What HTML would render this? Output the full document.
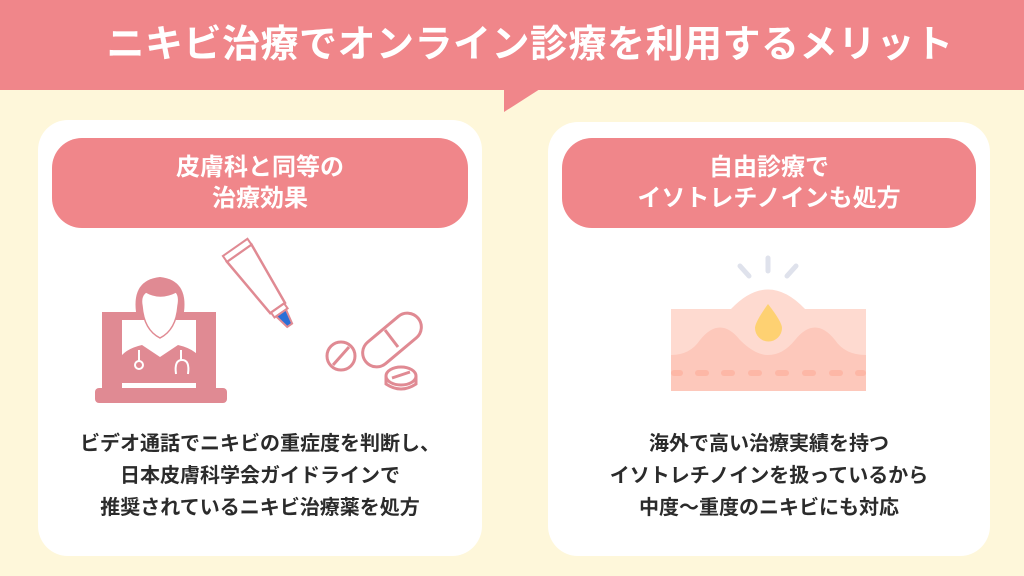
<!DOCTYPE html>
<html><head><meta charset="utf-8"><style>
body{margin:0;width:1024px;height:576px;background:#fef7da;position:relative;overflow:hidden;font-family:"Liberation Sans","Noto Sans CJK JP",sans-serif;}
.band{position:absolute;left:0;top:0;width:1024px;height:90px;background:#f0868a;}
.title{position:absolute;left:0;top:0;width:1024px;height:90px;line-height:90px;text-align:center;color:#fff;font-weight:bold;font-size:38px;padding-left:36px;box-sizing:border-box;letter-spacing:0.5px}
.card{position:absolute;background:#fff;border-radius:30px;}
.pill{position:absolute;background:#f0868a;border-radius:30px;color:#fff;font-weight:bold;font-size:24px;line-height:31px;text-align:center;display:flex;align-items:center;justify-content:center}
.txt{position:absolute;text-align:center;color:#2b2b2b;font-weight:bold;font-size:20px;line-height:32px}
</style></head><body>
<div class="band"></div>
<svg style="position:absolute;left:0;top:0" width="1024" height="120"><polygon points="504,89 540,89 504,112" fill="#f0868a"/></svg>
<div class="title">ニキビ治療でオンライン診療を利用するメリット</div>
<div class="card" style="left:38px;top:120px;width:444px;height:436px"></div>
<div class="card" style="left:548px;top:122px;width:442px;height:434px"></div>
<div class="pill" style="left:52px;top:138px;width:416px;height:90px">皮膚科と同等の<br>治療効果</div>
<div class="pill" style="left:562px;top:138px;width:414px;height:90px">自由診療で<br>イソトレチノインも処方</div>
<svg style="position:absolute;left:0;top:0" width="1024" height="576">
<!-- laptop -->
<g fill="#e08a93">
<rect x="102" y="312" width="20" height="78"/><rect x="102" y="312" width="40" height="8"/>
<rect x="196" y="312" width="20" height="78"/><rect x="178" y="312" width="38" height="8"/>
<rect x="95" y="388" width="132" height="15" rx="4"/>
<path d="M117 383 L117 365 Q120 350 142 345 L160 357 L178 345 Q200 350 203 365 L203 383 Z"/>
<path d="M136 312 Q132 280 160 277 Q188 280 184 312 Q182 318 178 320 L142 320 Q138 318 136 312Z"/>
</g>
<path d="M142 306 Q140 296 146 292 Q160 300 176 292 Q180 296 178 306 Q176 330 160 338 Q144 330 142 306Z" fill="#fff" stroke="#e08a93" stroke-width="1.5"/>
<circle cx="139" cy="365" r="4" fill="none" stroke="#fff" stroke-width="2"/>
<path d="M139 361 L139 350 M181 350 L181 360" stroke="#fff" stroke-width="2"/>
<path d="M176 374 Q174 360 182 360 Q190 360 188 374" fill="none" stroke="#fff" stroke-width="2"/>
<!-- tube -->
<g transform="rotate(-35 265 290)">
<path d="M250 245 L280 245 L274 312 L256 312 Z" fill="#fff" stroke="#e08a93" stroke-width="2.5"/>
<rect x="250" y="238" width="30" height="7" fill="#fff" stroke="#e08a93" stroke-width="2"/>
<rect x="257" y="312" width="16" height="6" fill="#fff" stroke="#e08a93" stroke-width="2"/>
<path d="M259 318 L271 318 L268 333 L262 333Z" fill="#2a6fd6" stroke="#e08a93" stroke-width="2"/>
</g>
<!-- pills -->
<g fill="none" stroke="#e08a93" stroke-width="3">
<circle cx="341" cy="356" r="14"/><line x1="333" y1="365" x2="349" y2="347"/>
<rect x="358" y="326" width="68" height="28" rx="14" transform="rotate(-40 392 340)"/>
<line x1="385" y1="330" x2="398" y2="347"/>
<ellipse cx="401" cy="376" rx="15" ry="9"/><path d="M386 376 L386 384 Q401 394 416 384 L416 376"/>
<line x1="392" y1="378" x2="410" y2="372"/>
</g>
<!-- skin -->
<rect x="671" y="309" width="195" height="82" fill="#fedad0"/>
<path d="M731 309 Q768 270 805 309Z" fill="#fedad0"/>
<path d="M671 355 Q690 355 700 340 Q720 315 740 340 Q755 355 768 355 Q783 355 795 340 Q815 315 835 340 Q845 355 866 355 L866 391 L671 391Z" fill="#fdc8bb"/>
<g stroke="#fdb7a6" stroke-width="6" stroke-linecap="round">
<line x1="674" y1="373" x2="680" y2="373"/><line x1="698" y1="373" x2="706" y2="373"/><line x1="724" y1="373" x2="732" y2="373"/><line x1="751" y1="373" x2="759" y2="373"/><line x1="778" y1="373" x2="786" y2="373"/><line x1="805" y1="373" x2="813" y2="373"/><line x1="832" y1="373" x2="840" y2="373"/><line x1="858" y1="373" x2="863" y2="373"/>
</g>
<path d="M768 304 Q755 322 755 328 A13 13 0 0 0 782 328 Q782 322 768 304Z" fill="#fed172"/>
<g stroke="#dfe2ec" stroke-width="5" stroke-linecap="round">
<line x1="768" y1="258" x2="768" y2="271"/><line x1="740" y1="266" x2="749" y2="276"/><line x1="796" y1="266" x2="787" y2="276"/>
</g>
</svg>
<div class="txt" style="left:38px;top:428px;width:444px">ビデオ通話でニキビの重症度を判断し、<br>日本皮膚科学会ガイドラインで<br>推奨されているニキビ治療薬を処方</div>
<div class="txt" style="left:548px;top:428px;width:442px">海外で高い治療実績を持つ<br>イソトレチノインを扱っているから<br>中度〜重度のニキビにも対応</div>
</body></html>
